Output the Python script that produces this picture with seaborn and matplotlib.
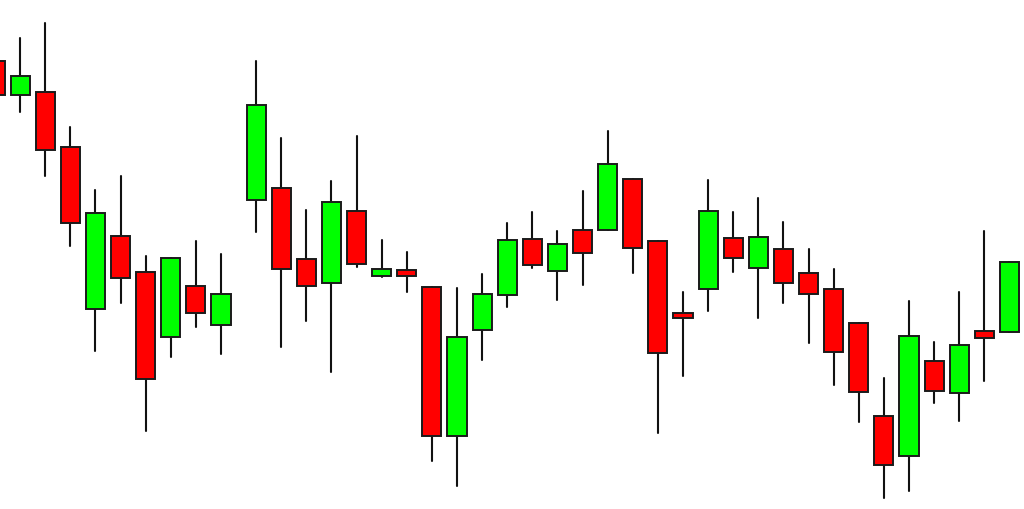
#Importing libraries
import pandas as pd
import matplotlib.pyplot as plt
import seaborn as sns
import numpy as np

#Candle positions (session index, with a short break after the 10th candle)
t = [0, 1, 2, 3, 4, 5, 6, 7, 8, 9,
     10.4, 11.4, 12.4, 13.4, 14.4, 15.4, 16.4, 17.4, 18.4, 19.4,
     20.4, 21.4, 22.4, 23.4, 24.4, 25.4, 26.4, 27.4, 28.4, 29.4,
     30.4, 31.4, 32.4, 33.4, 34.4, 35.4, 36.4, 37.4, 38.4, 39.4, 40.4]

#Open / high / low / close
opens = [448, 414.3, 417.3, 362.3, 200.3, 273, 237, 172.3, 223.3, 184.3,
         309.3, 320.7, 250, 226.3, 297.7, 233.3, 239.3, 222, 73, 178.7,
         213.7, 270, 238, 279, 279.3, 330, 268, 196.3, 219.7, 270.7,
         240.7, 259.7, 235.7, 219.7, 185.7, 93, 53, 148, 115.7, 178.3, 176.7]
highs = [449, 470.7, 486, 381.7, 318.7, 333.3, 253.3, 251.3, 268, 254.7,
         447.7, 371.3, 298.7, 327.7, 372.7, 269, 257.3, 222, 220.7, 234.7,
         285.7, 297, 278.3, 318.3, 378.3, 330, 268, 216.7, 328.7, 296.7,
         310.7, 286.7, 260, 240.3, 185.7, 130.7, 207.7, 167.3, 217, 278.3, 246.7]
lows = [414, 396.7, 333.3, 263.3, 158.3, 205.7, 78.3, 152.3, 182.3, 155,
        277.3, 161.7, 187.7, 136.7, 242.3, 232, 216.7, 48.3, 23.3, 149.3,
        201.7, 241, 209.3, 224, 279.3, 236, 75.7, 132.7, 197.7, 236.7,
        191, 205.7, 166, 123.7, 87, 11, 18.3, 105.7, 87.7, 128.3, 176.7]
closes = [414, 432.7, 359.3, 286, 296.3, 231.3, 130, 251.3, 195.7, 214.7,
          403.7, 239.7, 223, 306.7, 245.3, 240.3, 233.3, 73, 171.7, 215.3,
          268.7, 244, 265, 255.7, 345, 261.3, 156.3, 191, 298, 251,
          271.7, 225.7, 215.3, 157, 117.3, 44.3, 173.3, 117.7, 164.3, 171.3, 246.7]

df = pd.DataFrame({"t": t, "open": opens, "high": highs, "low": lows, "close": closes})
df["up"] = df["close"] >= df["open"]
df["bottom"] = df[["open", "close"]].min(axis=1)
df["height"] = (df["close"] - df["open"]).abs().clip(lower=1)

#Long form table for the wicks (one unit per candle)
wicks = pd.concat([
    df[["t", "high"]].rename(columns={"high": "price"}),
    df[["t", "low"]].rename(columns={"low": "price"}),
]).reset_index(drop=True)
wicks["candle"] = wicks["t"]

sns.set_theme(style="white")
fig = plt.figure(figsize=(10.24, 5.1), dpi=100)
ax = fig.add_axes([0, 0, 1, 1])

#Wicks
sns.lineplot(data=wicks, x="t", y="price", units="candle", estimator=None,
             color="#111111", linewidth=1.5, legend=False, ax=ax, zorder=1)

#Bodies
colors = np.where(df["up"], "#00ff00", "#ff0000")
ax.bar(df["t"], df["height"], bottom=df["bottom"], width=0.76,
       color=colors, edgecolor="#1a1a1a", linewidth=1.4, zorder=2)

ax.set_xlim(0.2, 40.98)
ax.set_ylim(0, 510)
ax.set_axis_off()
fig.patch.set_facecolor("white")

plt.savefig("out.png", dpi=100, facecolor="white")
